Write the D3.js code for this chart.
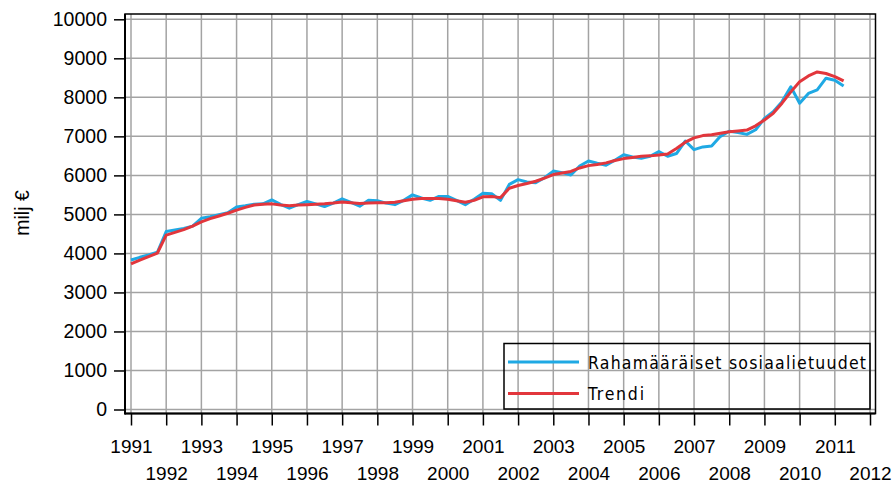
<!DOCTYPE html>
<html>
<head>
<meta charset="utf-8">
<script src="https://cdn.jsdelivr.net/npm/d3@7"></script>
<style>
  html, body { margin: 0; padding: 0; background: #fff; }
  svg { display: block; }
  text { font-family: "Liberation Sans", Arial, sans-serif; fill: #000; }
</style>
</head>
<body>
<div id="chart"></div>
<script>
// ---- data (quarterly, 1991Q1 .. 2011Q2) ----
const quarterLabels = [];
const firstYear = 1991, lastYear = 2011;
for (let y = firstYear; y <= lastYear; y++) for (let q = 1; q <= 4; q++) quarterLabels.push(y + "Q" + q);
quarterLabels.splice(82); // ends at 2011Q2

const benefits = [
  3830, 3900, 3960, 4030,
  4560, 4600, 4640, 4700,
  4900, 4940, 4990, 5040,
  5190, 5220, 5260, 5270,
  5370, 5260, 5160, 5250,
  5330, 5270, 5200, 5290,
  5400, 5310, 5210, 5360,
  5350, 5290, 5250, 5360,
  5500, 5420, 5360, 5460,
  5460, 5360, 5250, 5390,
  5540, 5530, 5360, 5770,
  5890, 5830, 5810, 5940,
  6110, 6070, 6010, 6240,
  6370, 6310, 6260, 6390,
  6530, 6470, 6440, 6490,
  6610, 6490, 6560, 6880,
  6660, 6730, 6750, 7000,
  7130, 7100, 7050, 7170,
  7460, 7630, 7890, 8270,
  7850, 8100, 8190, 8490,
  8440, 8290
];
const trend = [
  3730, 3830, 3920, 4010,
  4470, 4540, 4610, 4700,
  4810, 4890, 4960, 5030,
  5110, 5180, 5240, 5260,
  5270, 5240, 5220, 5240,
  5250, 5260, 5270, 5290,
  5320, 5300, 5280, 5290,
  5300, 5300, 5310, 5350,
  5390, 5410, 5410, 5410,
  5390, 5350, 5310, 5360,
  5450, 5460, 5430, 5670,
  5740, 5790, 5850, 5930,
  6020, 6060, 6100, 6190,
  6250, 6280, 6320, 6380,
  6430, 6460, 6490, 6500,
  6520, 6550, 6690, 6850,
  6960, 7020, 7040, 7080,
  7120, 7140, 7160, 7270,
  7420, 7590, 7850, 8140,
  8400, 8550, 8650, 8610,
  8530, 8420
];
const xTickYears = d3.range(1991, 2013);
const yTickValues = [0, 1000, 2000, 3000, 4000, 5000, 6000, 7000, 8000, 9000, 10000];
const seriesNames = ["Rahamääräiset sosiaalietuudet", "Trendi"];
const seriesColors = ["#1fa9e4", "#e2363c"];
const yTitle = "milj €";

// ---- chart ----
const W = 893, H = 485;
const svg = d3.select("#chart").append("svg").attr("width", W).attr("height", H);

const x = d3.scaleLinear().domain([1991, 2012]).range([131, 870]);
const y = d3.scaleLinear().domain([0, 10000]).range([409.5, 19.3]);
const qTime = s => +s.slice(0, 4) + (+s.slice(5) - 1) / 4;

const frame = { x0: 125, x1: 875.5, y0: 14, y1: 413.5 };

// grid
const grid = svg.append("g").attr("stroke", "#a3a3a3").attr("stroke-width", 1.5);
grid.selectAll("line.v").data(xTickYears).join("line")
  .attr("x1", d => x(d)).attr("x2", d => x(d))
  .attr("y1", frame.y0).attr("y2", frame.y1);
grid.selectAll("line.h").data(yTickValues).join("line")
  .attr("y1", d => y(d)).attr("y2", d => y(d))
  .attr("x1", frame.x0).attr("x2", frame.x1);

// frame
svg.append("rect").attr("x", frame.x0).attr("y", frame.y0)
  .attr("width", frame.x1 - frame.x0).attr("height", frame.y1 - frame.y0)
  .attr("fill", "none").attr("stroke", "#000").attr("stroke-width", 1.5);
svg.append("line").attr("x1", frame.x0).attr("x2", frame.x0).attr("y1", frame.y0).attr("y2", frame.y1 + 1)
  .attr("stroke", "#000").attr("stroke-width", 2);
svg.append("line").attr("x1", frame.x0).attr("x2", frame.x1).attr("y1", frame.y1).attr("y2", frame.y1)
  .attr("stroke", "#000").attr("stroke-width", 2);

// y axis
const yAxis = d3.axisLeft(y).tickValues(yTickValues).tickSize(11).tickPadding(7).tickFormat(d3.format("d"));
const gy = svg.append("g").attr("transform", `translate(${frame.x0},0)`).call(yAxis);
gy.select(".domain").remove();
gy.selectAll(".tick line").attr("stroke", "#000").attr("stroke-width", 1.5);
gy.selectAll(".tick text").style("font-size", "19.5px").style("font-family", "Liberation Sans, Arial, sans-serif")
  .attr("fill", "#000");

// x axis
const xAxis = d3.axisBottom(x).tickValues(xTickYears).tickSize(12).tickFormat(d3.format("d"));
const gx = svg.append("g").attr("transform", `translate(0,${frame.y1})`).call(xAxis);
gx.select(".domain").remove();
gx.selectAll(".tick line").attr("stroke", "#000").attr("stroke-width", 1.5);
gx.selectAll(".tick text")
  .style("font-size", "19px").style("font-family", "Liberation Sans, Arial, sans-serif")
  .attr("fill", "#000")
  .attr("dy", null)
  .attr("y", d => (d % 2 === 1 ? 39.5 : 66.5));

// y title
svg.append("text")
  .attr("transform", "translate(29,213) rotate(-90)")
  .attr("text-anchor", "middle")
  .style("font-size", "19.5px")
  .text(yTitle);

// lines
const line = d3.line().x((d, i) => x(qTime(quarterLabels[i]))).y(d => y(d));
[benefits, trend].forEach((s, k) => {
  svg.append("path").datum(s)
    .attr("fill", "none")
    .attr("stroke", seriesColors[k])
    .attr("stroke-width", 3)
    .attr("stroke-linejoin", "round")
    .attr("d", line);
});

// legend
const lg = svg.append("g");
lg.append("rect").attr("x", 504).attr("y", 343.5).attr("width", 366).attr("height", 65.5)
  .attr("fill", "none").attr("stroke", "#000").attr("stroke-width", 1.5);
const legendRows = [362, 393.5];
const legendWidths = [278, 56];
seriesNames.forEach((n, k) => {
  lg.append("line").attr("x1", 508).attr("x2", 579)
    .attr("y1", legendRows[k]).attr("y2", legendRows[k])
    .attr("stroke", seriesColors[k]).attr("stroke-width", 3);
  lg.append("text").attr("x", 588).attr("y", legendRows[k] + 6.5)
    .style("font-size", "17.5px")
    .style("font-family", "DejaVu Sans Condensed, Liberation Sans, sans-serif")
    .attr("textLength", legendWidths[k]).attr("lengthAdjust", "spacing")
    .text(n);
});
</script>
</body>
</html>
